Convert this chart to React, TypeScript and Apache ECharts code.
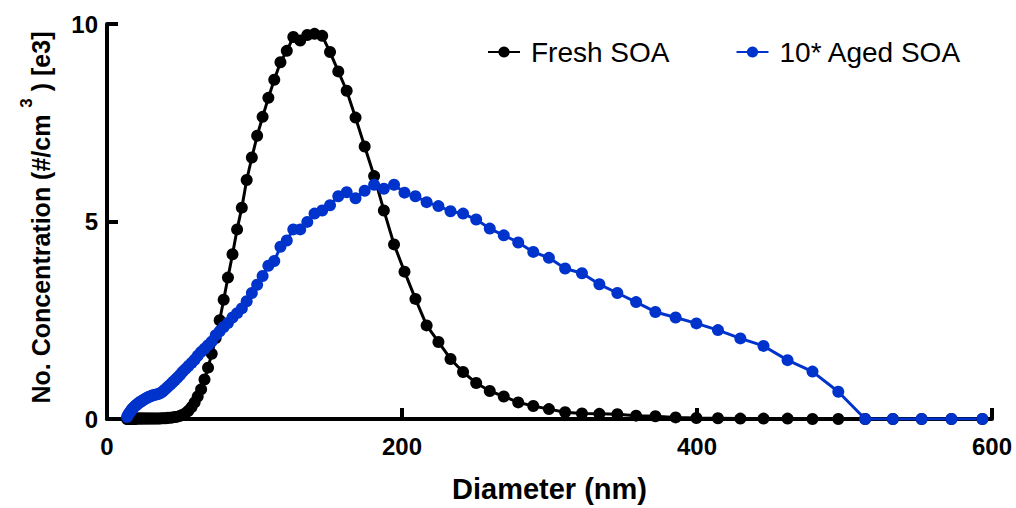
import React, { useEffect, useRef } from "react";
import * as echarts from "echarts";

const diameters = [
  13.6, 14.1, 14.6, 15.1, 15.7, 16.3, 16.8, 17.5, 18.1, 18.8,
  19.5, 20.2, 20.9, 21.7, 22.5, 23.3, 24.1, 25.0, 25.9, 26.9,
  27.9, 28.9, 30.0, 31.1, 32.2, 33.4, 34.6, 35.9, 37.2, 38.5,
  40.0, 41.4, 42.9, 44.5, 46.1, 47.8, 49.6, 51.4, 53.3, 55.2,
  57.3, 59.4, 61.5, 63.8, 66.1, 68.5, 71.0, 73.7, 76.4, 79.1,
  82.0, 85.1, 88.2, 91.4, 94.7, 98.2, 101.8, 105.5, 109.4, 113.4,
  117.6, 121.9, 126.3, 131.0, 135.8, 140.7, 145.9, 151.2, 156.8, 162.5,
  168.5, 174.7, 181.1, 187.7, 194.6, 201.7, 209.1, 216.7, 224.7, 232.9,
  241.4, 250.3, 259.5, 269.0, 278.8, 289.0, 299.6, 310.6, 322.0, 333.8,
  346.0, 358.7, 371.8, 385.5, 399.6, 414.2, 429.4, 445.1, 461.4, 478.3,
  495.8, 514.0, 532.8, 552.3, 572.5, 593.5,
];

const freshSOA = [
  0, 0, 0, 0, 0, 0, 0, 0, 0, 0,
  0.01, 0.01, 0.01, 0.01, 0.01, 0.01, 0.01, 0.01, 0.01, 0.01,
  0.01, 0.01, 0.01, 0.01, 0.01, 0.01, 0.01, 0.01, 0.02, 0.02,
  0.02, 0.03, 0.03, 0.04, 0.05, 0.06, 0.08, 0.11, 0.15, 0.21,
  0.30, 0.42, 0.57, 0.75, 1.00, 1.30, 1.65, 2.05, 2.50, 3.02,
  3.58, 4.17, 4.80, 5.35, 6.05, 6.62, 7.17, 7.65, 8.13, 8.59,
  9.03, 9.32, 9.67, 9.58, 9.72, 9.75, 9.70, 9.29, 8.80, 8.31,
  7.63, 6.90, 6.15, 5.28, 4.42, 3.73, 3.04, 2.37, 1.95, 1.52,
  1.19, 0.91, 0.71, 0.57, 0.42, 0.33, 0.25, 0.17, 0.14, 0.13,
  0.12, 0.085, 0.07, 0.04, 0.025, 0.02, 0.01, 0.01, 0.01, 0,
  0, 0, 0, 0, 0, 0,
];

const agedSOA = [
  0.05, 0.09, 0.12, 0.15, 0.18, 0.21, 0.24, 0.27, 0.29, 0.32,
  0.34, 0.36, 0.39, 0.41, 0.43, 0.45, 0.47, 0.49, 0.51, 0.53,
  0.55, 0.57, 0.58, 0.60, 0.61, 0.62, 0.63, 0.65, 0.68, 0.72,
  0.77, 0.82, 0.87, 0.93, 0.99, 1.05, 1.12, 1.20, 1.27, 1.34,
  1.42, 1.50, 1.60, 1.70, 1.78, 1.87, 1.96, 2.12, 2.22, 2.33,
  2.43, 2.57, 2.68, 2.80, 2.98, 3.19, 3.40, 3.62, 3.88, 4.00,
  4.36, 4.52, 4.80, 4.80, 4.99, 5.20, 5.28, 5.41, 5.64, 5.74,
  5.59, 5.78, 5.93, 5.83, 5.93, 5.73, 5.64, 5.49, 5.39, 5.26,
  5.20, 5.05, 4.82, 4.65, 4.47, 4.23, 4.08, 3.81, 3.69, 3.41,
  3.19, 2.96, 2.71, 2.57, 2.42, 2.25, 2.04, 1.85, 1.49, 1.20,
  0.69, 0, 0, 0, 0, 0,
];

const seriesNames = ["Fresh SOA", "10* Aged SOA"];
const xAxisTitle = "Diameter (nm)";
const FONT = 'Arial, "Liberation Sans", Helvetica, sans-serif';
const BLUE = "#0033cc";

export default function App() {
  const ref = useRef<HTMLDivElement>(null);
  useEffect(() => {
    document.body.style.margin = "0";
    if (!ref.current) return;
    const chart = echarts.init(ref.current, null, { renderer: "svg" });
    const axisLine = { show: true, lineStyle: { color: "#000", width: 4 } };
    const axisTick = { show: true, inside: true, length: 11, lineStyle: { color: "#000", width: 4 } };
    const axisLabel = { color: "#000", fontSize: 24, fontWeight: "bold" as const, fontFamily: FONT };
    chart.setOption({
      animation: false,
      backgroundColor: "#fff",
      grid: { left: 107, right: 24, top: 24, bottom: 86, containLabel: false },
      legend: {
        left: 482,
        top: 33,
        itemWidth: 32,
        itemHeight: 14,
        itemGap: 66,
        textStyle: { color: "#000", fontSize: 28, fontFamily: FONT, padding: [0, 0, 0, 6] },
        data: seriesNames,
      },
      xAxis: {
        type: "value",
        min: 0,
        max: 600,
        interval: 200,
        name: xAxisTitle,
        nameLocation: "middle",
        nameGap: 55,
        nameTextStyle: { color: "#000", fontSize: 29, fontWeight: "bold", fontFamily: FONT },
        axisLine,
        axisTick,
        axisLabel: { ...axisLabel, margin: 15 },
        splitLine: { show: false },
      },
      yAxis: {
        type: "value",
        min: 0,
        max: 10,
        interval: 5,
        name: "{a|No. Concentration (#/cm }{s|3}{a| ) [e3]}",
        nameLocation: "middle",
        nameGap: 44,
        nameTextStyle: {
          color: "#000",
          padding: [0, 0, 0, 8],
          rich: {
            a: { fontSize: 25, fontWeight: "bold", fontFamily: FONT, color: "#000" },
            s: { fontSize: 17, fontWeight: "bold", fontFamily: FONT, color: "#000", verticalAlign: "top", padding: [0, 0, 28, 0] },
          },
        },
        axisLine,
        axisTick,
        axisLabel: { ...axisLabel, margin: 9 },
        splitLine: { show: false },
      },
      series: [
        {
          name: seriesNames[0],
          type: "line",
          data: diameters.map((d, i) => [d, freshSOA[i]]),
          symbol: "circle",
          symbolSize: 12,
          showAllSymbol: true,
          itemStyle: { color: "#000" },
          lineStyle: { color: "#000", width: 3 },
        },
        {
          name: seriesNames[1],
          type: "line",
          data: diameters.map((d, i) => [d, agedSOA[i]]),
          symbol: "circle",
          symbolSize: 12,
          showAllSymbol: true,
          itemStyle: { color: BLUE },
          lineStyle: { color: BLUE, width: 3 },
        },
      ],
    });
    return () => chart.dispose();
  }, []);
  return <div ref={ref} style={{ width: 1016, height: 508 }} />;
}
